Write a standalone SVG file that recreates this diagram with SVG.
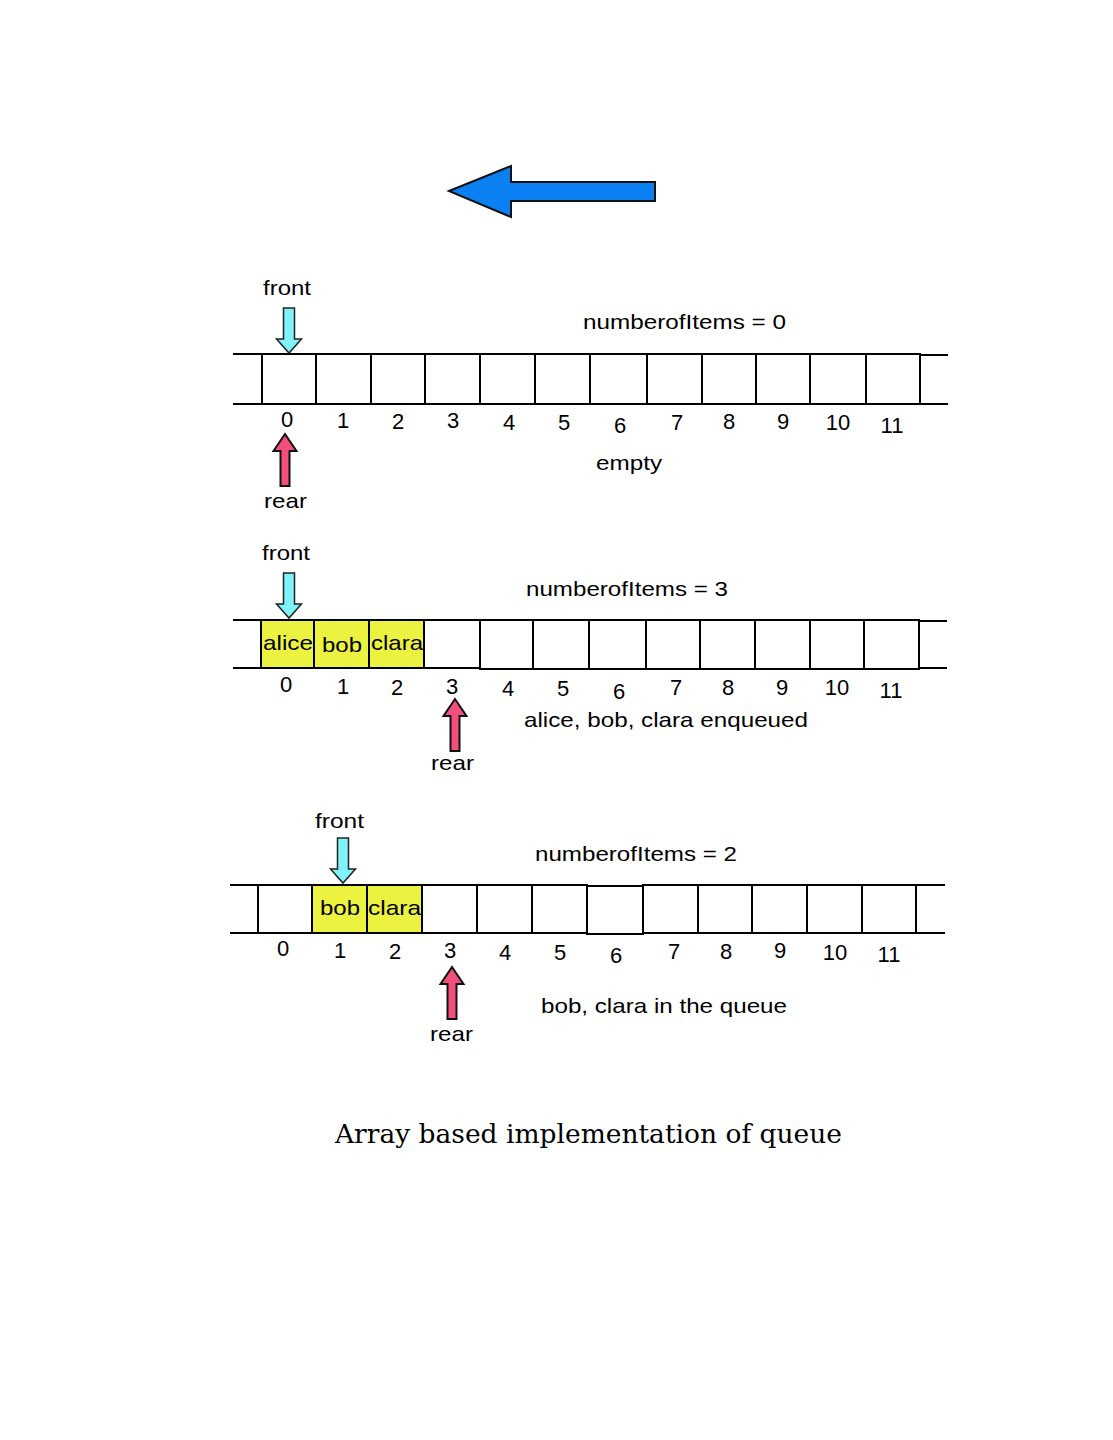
<svg xmlns="http://www.w3.org/2000/svg" xmlns:xlink="http://www.w3.org/1999/xlink" width="1113" height="1440" viewBox="0 0 1113 1440">
<style>
.t{font-family:"Liberation Sans",Arial,sans-serif;font-size:21px;fill:#000}
.n{font-family:"Liberation Sans",Arial,sans-serif;font-size:22px;fill:#000;text-anchor:middle}
.c{fill:#fff;stroke:#000;stroke-width:2}
.y{fill:#ebf23f;stroke:#000;stroke-width:2}
.s{stroke:#000;stroke-width:2;fill:none}
.title{font-family:"DejaVu Serif","Liberation Serif",serif;font-size:26px;fill:#000}
</style>
<defs>
<path id="fa" d="M-5.5,-45 H5.5 V-14 H12.5 L0,0 L-12.5,-14 H-5.5 Z" fill="#80f2f9" stroke="#222" stroke-width="1.5"/>
<path id="ra" d="M0,0 L11.5,17 H4.5 V52 H-4.5 V17 H-11.5 Z" fill="#f24f7c" stroke="#111" stroke-width="2"/>
</defs>
<rect width="1113" height="1440" fill="#fff"/>

<g id="direction-arrow">
<polygon points="449,191 511,166 511,182 655,182 655,201 511,201 511,217" fill="#0a80f2" stroke="#111" stroke-width="2"/>
</g>

<g id="row1">
<path class="s" d="M233,354 H262 M233,404 H262 M920,355 H948 M920,404 H948"/>
<rect class="c" x="262" y="354" width="54" height="50"/>
<rect class="c" x="316" y="354" width="55" height="50"/>
<rect class="c" x="371" y="354" width="54" height="50"/>
<rect class="c" x="425" y="354" width="55" height="50"/>
<rect class="c" x="480" y="354" width="55" height="50"/>
<rect class="c" x="535" y="354" width="55" height="50"/>
<rect class="c" x="590" y="354" width="57" height="50"/>
<rect class="c" x="647" y="354" width="55" height="50"/>
<rect class="c" x="702" y="354" width="54" height="50"/>
<rect class="c" x="756" y="354" width="54" height="50"/>
<rect class="c" x="810" y="354" width="56" height="50"/>
<rect class="c" x="866" y="354" width="54" height="50"/>
<text class="n" x="287" y="427">0</text>
<text class="n" x="343" y="428">1</text>
<text class="n" x="398" y="429">2</text>
<text class="n" x="453" y="428">3</text>
<text class="n" x="509" y="430">4</text>
<text class="n" x="564" y="430">5</text>
<text class="n" x="620" y="433">6</text>
<text class="n" x="677" y="430">7</text>
<text class="n" x="729" y="429">8</text>
<text class="n" x="783" y="429">9</text>
<text class="n" x="838" y="430">10</text>
<text class="n" x="892" y="433">11</text>
<text class="t" x="263" y="295" textLength="48" lengthAdjust="spacingAndGlyphs">front</text>
<text class="t" x="583" y="329" textLength="203" lengthAdjust="spacingAndGlyphs">numberofItems = 0</text>
<text class="t" x="596" y="470" textLength="66" lengthAdjust="spacingAndGlyphs">empty</text>
<text class="t" x="264" y="508" textLength="43" lengthAdjust="spacingAndGlyphs">rear</text>
</g>

<g id="row2">
<path class="s" d="M233,620 H261 M233,668 H261 M919,621 H947 M919,668 H947"/>
<rect class="y" x="261" y="620" width="53" height="48"/>
<rect class="y" x="314" y="620" width="55" height="48"/>
<rect class="y" x="369" y="620" width="55" height="48"/>
<rect class="c" x="424" y="620" width="56" height="48"/>
<rect class="c" x="480" y="620" width="53" height="49"/>
<rect class="c" x="533" y="620" width="56" height="49"/>
<rect class="c" x="589" y="620" width="57" height="49"/>
<rect class="c" x="646" y="620" width="54" height="49"/>
<rect class="c" x="700" y="620" width="55" height="49"/>
<rect class="c" x="755" y="620" width="55" height="49"/>
<rect class="c" x="810" y="620" width="54" height="49"/>
<rect class="c" x="864" y="620" width="55" height="49"/>
<text class="t" x="263" y="650" textLength="50" lengthAdjust="spacingAndGlyphs">alice</text>
<text class="t" x="322" y="652" textLength="40" lengthAdjust="spacingAndGlyphs">bob</text>
<text class="t" x="371" y="650" textLength="52" lengthAdjust="spacingAndGlyphs">clara</text>
<text class="n" x="286" y="692">0</text>
<text class="n" x="343" y="694">1</text>
<text class="n" x="397" y="695">2</text>
<text class="n" x="452" y="694">3</text>
<text class="n" x="508" y="696">4</text>
<text class="n" x="563" y="696">5</text>
<text class="n" x="619" y="699">6</text>
<text class="n" x="676" y="695">7</text>
<text class="n" x="728" y="695">8</text>
<text class="n" x="782" y="695">9</text>
<text class="n" x="837" y="695">10</text>
<text class="n" x="891" y="698">11</text>
<text class="t" x="262" y="560" textLength="48" lengthAdjust="spacingAndGlyphs">front</text>
<text class="t" x="526" y="596" textLength="202" lengthAdjust="spacingAndGlyphs">numberofItems = 3</text>
<text class="t" x="524" y="727" textLength="284" lengthAdjust="spacingAndGlyphs">alice, bob, clara enqueued</text>
<text class="t" x="431" y="770" textLength="43" lengthAdjust="spacingAndGlyphs">rear</text>
</g>

<g id="row3">
<path class="s" d="M230,885 H258 M230,933 H258 M916,885 H945 M916,933 H945"/>
<rect class="c" x="258" y="885" width="54" height="48"/>
<rect class="y" x="312" y="885" width="55" height="48"/>
<rect class="y" x="367" y="885" width="55" height="48"/>
<rect class="c" x="422" y="885" width="55" height="48"/>
<rect class="c" x="477" y="885" width="55" height="48"/>
<rect class="c" x="532" y="885" width="55" height="48"/>
<rect class="c" x="587" y="886" width="56" height="48"/>
<rect class="c" x="643" y="885" width="55" height="48"/>
<rect class="c" x="698" y="885" width="54" height="48"/>
<rect class="c" x="752" y="885" width="55" height="48"/>
<rect class="c" x="807" y="885" width="55" height="48"/>
<rect class="c" x="862" y="885" width="54" height="48"/>
<text class="t" x="320" y="915" textLength="40" lengthAdjust="spacingAndGlyphs">bob</text>
<text class="t" x="368" y="915" textLength="53" lengthAdjust="spacingAndGlyphs">clara</text>
<text class="n" x="283" y="956">0</text>
<text class="n" x="340" y="958">1</text>
<text class="n" x="395" y="959">2</text>
<text class="n" x="450" y="958">3</text>
<text class="n" x="505" y="960">4</text>
<text class="n" x="560" y="960">5</text>
<text class="n" x="616" y="963">6</text>
<text class="n" x="674" y="959">7</text>
<text class="n" x="726" y="959">8</text>
<text class="n" x="780" y="958">9</text>
<text class="n" x="835" y="960">10</text>
<text class="n" x="889" y="962">11</text>
<text class="t" x="315" y="828" textLength="49" lengthAdjust="spacingAndGlyphs">front</text>
<text class="t" x="535" y="861" textLength="202" lengthAdjust="spacingAndGlyphs">numberofItems = 2</text>
<text class="t" x="541" y="1013" textLength="246" lengthAdjust="spacingAndGlyphs">bob, clara in the queue</text>
<text class="t" x="430" y="1041" textLength="43" lengthAdjust="spacingAndGlyphs">rear</text>
</g>

<g id="connectors">
<use xlink:href="#fa" href="#fa" transform="translate(289,353)"/>
<use xlink:href="#ra" href="#ra" transform="translate(285,434)"/>
<use xlink:href="#fa" href="#fa" transform="translate(289,618)"/>
<use xlink:href="#ra" href="#ra" transform="translate(455,699)"/>
<use xlink:href="#fa" href="#fa" transform="translate(343,883)"/>
<use xlink:href="#ra" href="#ra" transform="translate(452,967)"/>
</g>

<g id="caption">
<text class="title" x="335" y="1143" textLength="507" lengthAdjust="spacingAndGlyphs">Array based implementation of queue</text>
</g>
</svg>
